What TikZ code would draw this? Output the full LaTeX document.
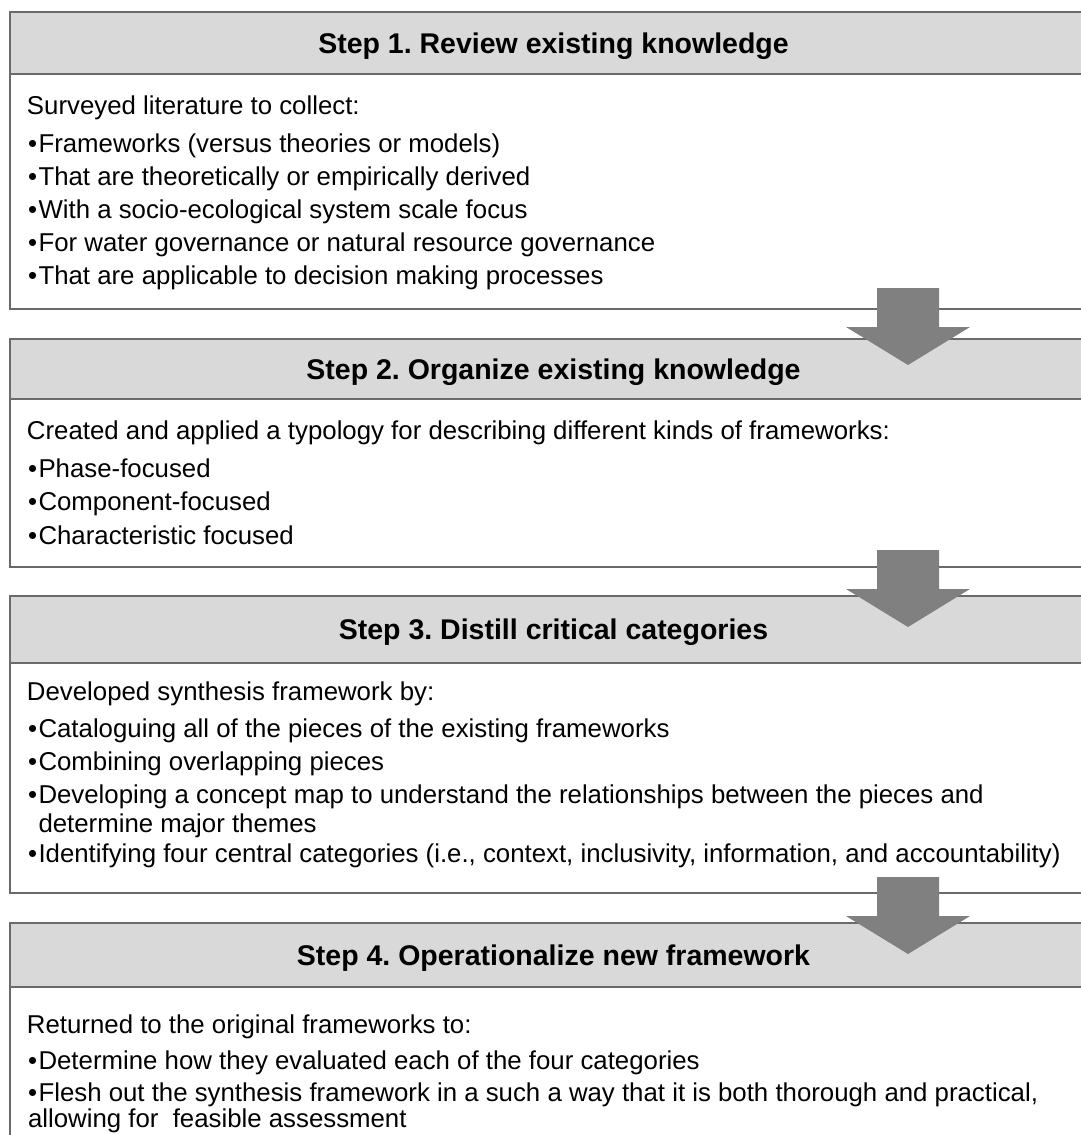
\documentclass[tikz,border=0pt]{standalone}
\usepackage{fontspec}
\setmainfont{Liberation Sans}
\usetikzlibrary{calc}
\definecolor{framegray}{HTML}{6A6A6A}
\definecolor{headfill}{HTML}{D9D9D9}
\definecolor{arrowgray}{HTML}{808080}
\newcommand{\bul}{\textbullet\hspace{1.5pt}}
\frenchspacing
\begin{document}
\begin{tikzpicture}[x=1pt,y=-1pt,
  header/.style={draw=framegray, line width=1.6pt, fill=headfill, rectangle,
    inner sep=0pt, outer sep=0pt, minimum width=1087pt, anchor=north west,
    font=\fontsize{28.5}{34}\selectfont\bfseries, text height=24pt, text depth=4pt},
  panel/.style={draw=framegray, line width=1.6pt, rectangle, inner sep=0pt,
    outer sep=0pt, minimum width=1087pt, anchor=north west},
  txt/.style={anchor=base west, inner sep=0pt, outer sep=0pt,
    font=\fontsize{25.8}{31}\selectfont},
  blockarrow/.pic={
    \fill[arrowgray] (-31,0) -- (31,0) -- (31,39) -- (62,39) -- (0,77)
      -- (-62,39) -- (-31,39) -- cycle;
  }]
\useasboundingbox (0,0) rectangle (1081,1135);
\clip (0,0) rectangle (1081,1135);

% step panels
\node[panel, minimum height=235pt] (b1) at (10,74) {};
\node[header, minimum height=62pt] (h1) at (10,12) {Step 1. Review existing knowledge};

\node[panel, minimum height=168pt] (b2) at (10,399) {};
\node[header, minimum height=60pt] (h2) at (10,339) {Step 2. Organize existing knowledge};

\node[panel, minimum height=230pt] (b3) at (10,663) {};
\node[header, minimum height=67pt] (h3) at (10,596) {Step 3. Distill critical categories};

\node[panel, minimum height=180pt] (b4) at (10,987) {};
\node[header, minimum height=64pt, yshift=-2pt] (h4) at (10,921) {Step 4. Operationalize new framework};

% step 1 text
\node[txt] (s1i) at (27,114) {Surveyed literature to collect:};
\node[txt] (s1a) at (28,152) {\bul Frameworks (versus theories or models)};
\node[txt] (s1b) at (28,185) {\bul That are theoretically or empirically derived};
\node[txt] (s1c) at (28,218) {\bul With a socio-ecological system scale focus};
\node[txt] (s1d) at (28,251) {\bul For water governance or natural resource governance};
\node[txt] (s1e) at (28,284) {\bul That are applicable to decision making processes};

% step 2 text
\node[txt] (s2i) at (27,439) {Created and applied a typology for describing different kinds of frameworks:};
\node[txt] (s2a) at (28,477) {\bul Phase-focused};
\node[txt] (s2b) at (28,510) {\bul Component-focused};
\node[txt] (s2c) at (28,544) {\bul Characteristic focused};

% step 3 text
\node[txt] (s3i) at (27,700) {Developed synthesis framework by:};
\node[txt] (s3a) at (28,737) {\bul Cataloguing all of the pieces of the existing frameworks};
\node[txt] (s3b) at (28,770) {\bul Combining overlapping pieces};
\node[txt] (s3c) at (28,803) {\bul Developing a concept map to understand the relationships between the pieces and};
\node[txt] (s3d) at (38.5,832) {determine major themes};
\node[txt] (s3e) at (28,862) {\bul Identifying four central categories (i.e., context, inclusivity, information, and accountability)};

% step 4 text
\node[txt] (s4i) at (27,1033) {Returned to the original frameworks to:};
\node[txt] (s4a) at (28,1069) {\bul Determine how they evaluated each of the four categories};
\node[txt] (s4b) at (28,1101) {\bul Flesh out the synthesis framework in a such a way that it is both thorough and practical,};
\node[txt] (s4c) at (28,1127) {allowing for \ feasible assessment};

% block arrows between the steps
\coordinate (ax) at (908,0);
\path (ax |- b1.south) ++(0,-21) pic {blockarrow};
\path (ax |- b2.south) ++(0,-17) pic {blockarrow};
\path (ax |- b3.south) ++(0,-16) pic {blockarrow};
\end{tikzpicture}
\end{document}
